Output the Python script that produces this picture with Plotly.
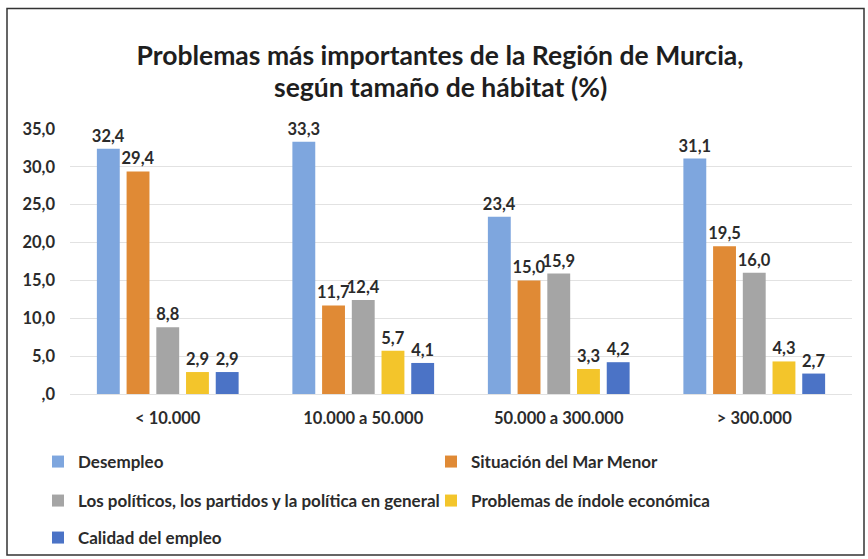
import plotly.graph_objects as go

categories = ["< 10.000", "10.000 a 50.000", "50.000 a 300.000", "> 300.000"]
series_names = [
    "Desempleo",
    "Situación del Mar Menor",
    "Los políticos, los partidos y la política en general",
    "Problemas de índole económica",
    "Calidad del empleo",
]
desempleo = [32.4, 33.3, 23.4, 31.1]
mar_menor = [29.4, 11.7, 15.0, 19.5]
politicos = [8.8, 12.4, 15.9, 16.0]
economica = [2.9, 5.7, 3.3, 4.3]
calidad = [2.9, 4.1, 4.2, 2.7]
series_values = [desempleo, mar_menor, politicos, economica, calidad]
colors = ["#7EA6DE", "#E08A35", "#A5A5A5", "#F3C52B", "#4B73C6"]

tick_vals = [0, 5, 10, 15, 20, 25, 30, 35]
tick_text = [",0", "5,0", "10,0", "15,0", "20,0", "25,0", "30,0", "35,0"]

title_line1 = "Problemas más importantes de la Región de Murcia,"
title_line2 = "según tamaño de hábitat (%)"

FONT = "Lato"
TXT = "#2B2B2B"

W, H = 868, 559
L, R, T, B = 70, 16, 129, 165
pw = W - L - R
ph = H - T - B

def px_x(x):
    return (x - L) / pw

def px_y(y):
    return (H - B - y) / ph

# legend slot positions in pixels (left x, center y)
legend_pos = [(38, 462), (431, 462), (38, 501), (431, 501), (38, 538)]
legend_ids = ["legend", "legend2", "legend3", "legend4", "legend5"]

fig = go.Figure()
for name, vals, col, lg in zip(series_names, series_values, colors, legend_ids):
    fig.add_trace(go.Bar(
        x=categories, y=vals, name=name, marker_color=col, marker_line_width=0,
        text=[f"{v:.1f}".replace(".", ",") for v in vals],
        textposition="outside", cliponaxis=False, constraintext="none",
        textfont=dict(family=FONT, size=16.5, color=TXT, weight="bold"),
        legend=lg,
    ))

legend_common = dict(
    orientation="v", xanchor="left", yanchor="middle",
    font=dict(family=FONT, size=17, color=TXT, weight="bold"),
    bgcolor="rgba(0,0,0,0)", itemwidth=30,
)

legends = {}
for lg, (lx, ly) in zip(legend_ids, legend_pos):
    legends[lg] = dict(x=px_x(lx), y=px_y(ly), **legend_common)

fig.update_layout(
    width=W, height=H,
    margin=dict(l=L, r=R, t=T, b=B, autoexpand=False),
    paper_bgcolor="white", plot_bgcolor="white",
    barmode="group", bargap=0.24, bargroupgap=0.23,
    separators=",.",
    title=dict(
        text=title_line1,
        x=440 / W, xanchor="center", xref="container", y=1 - 56 / H, yanchor="middle", yref="container",
        font=dict(family=FONT, size=26.5, color="#1E1E1E", weight="bold"),
    ),
    annotations=[dict(
        text=title_line2, xref="paper", yref="paper",
        x=px_x(440), y=px_y(87), xanchor="center", yanchor="middle", showarrow=False,
        font=dict(family=FONT, size=26.5, color="#1E1E1E", weight="bold"),
    )],
    xaxis=dict(
        showgrid=False, showline=False, ticks="", ticklabelstandoff=12,
        tickfont=dict(family=FONT, size=16.5, color=TXT, weight="bold"),
    ),
    yaxis=dict(
        range=[0, 35], tickvals=tick_vals, ticktext=tick_text,
        showgrid=True, gridcolor="#E2E2E2", gridwidth=1,
        zeroline=True, zerolinecolor="#E2E2E2", zerolinewidth=1,
        showline=False, ticks="", ticklabelstandoff=14,
        tickfont=dict(family=FONT, size=16.5, color=TXT, weight="bold"),
    ),
    shapes=[dict(
        type="rect", xref="paper", yref="paper",
        x0=px_x(7), x1=px_x(864), y0=px_y(555), y1=px_y(8.5),
        line=dict(color="#333333", width=1.5), fillcolor="rgba(0,0,0,0)", layer="below",
    )],
    showlegend=True,
    **legends,
)

fig.write_html(
    "out.html",
    config={"displayModeBar": False},
    post_script="document.body.style.margin='0';document.body.style.padding='0';",
)
